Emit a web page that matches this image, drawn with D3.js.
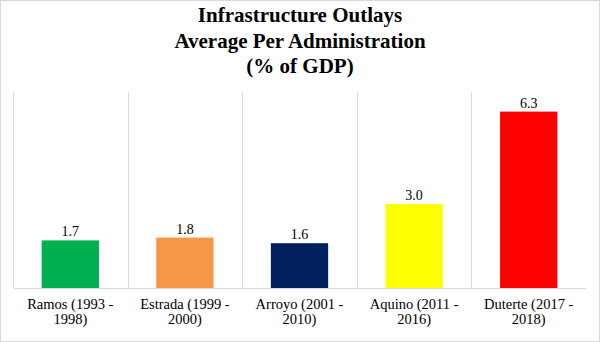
<!DOCTYPE html>
<html>
<head>
<meta charset="utf-8">
<script src="https://cdn.jsdelivr.net/npm/d3@7/dist/d3.min.js"></script>
<style>
  html, body { margin: 0; padding: 0; background: #fff; }
  svg { display: block; }
  text { font-family: "Liberation Serif", "DejaVu Serif", serif; }
</style>
</head>
<body>
<svg id="chart" width="600" height="342"></svg>
<script>
// Administrations and their average infrastructure outlays (% of GDP)
const categories = [
  ["Ramos (1993 -", "1998)"],
  ["Estrada (1999 -", "2000)"],
  ["Arroyo (2001 -", "2010)"],
  ["Aquino (2011 -", "2016)"],
  ["Duterte (2017 -", "2018)"]
];
const values = [1.7, 1.8, 1.6, 3.0, 6.3];
const colors = ["#00b050", "#f79646", "#002060", "#ffff00", "#ff0000"];
const titleLines = ["Infrastructure Outlays", "Average Per Administration", "(% of GDP)"];

const W = 600, H = 342;
const margin = { top: 92, right: 14, bottom: 54, left: 13 };
const svg = d3.select("#chart");

// chart frame
svg.append("rect")
  .attr("x", 0.5).attr("y", 0.5)
  .attr("width", W - 1).attr("height", H - 1)
  .attr("fill", "#fff").attr("stroke", "#d9d9d9");

const keys = categories.map((c, i) => i);
const x = d3.scaleBand()
  .domain(keys)
  .range([margin.left, W - margin.right])
  .paddingInner(0.5).paddingOuter(0.25);
const y = d3.scaleLinear()
  .domain([0, 7])
  .range([H - margin.bottom, margin.top]);

// category separators (vertical gridlines)
const sepX = keys.map(k => x(k) - x.bandwidth() * 0.5);
svg.append("g").selectAll("line")
  .data(sepX)
  .join("line")
  .attr("x1", d => Math.round(d) + 0.5).attr("x2", d => Math.round(d) + 0.5)
  .attr("y1", y(7)).attr("y2", y(0))
  .attr("stroke", "#d9d9d9").attr("stroke-width", 1);

// bars
svg.append("g").selectAll("rect")
  .data(values)
  .join("rect")
  .attr("x", (d, i) => x(i))
  .attr("width", x.bandwidth())
  .attr("y", d => y(d))
  .attr("height", d => y(0) - y(d))
  .attr("fill", (d, i) => colors[i]);

// value labels
svg.append("g").selectAll("text")
  .data(values)
  .join("text")
  .attr("x", (d, i) => x(i) + x.bandwidth() / 2)
  .attr("y", d => y(d) - 4)
  .attr("text-anchor", "middle")
  .attr("font-size", 14)
  .attr("fill", "#000")
  .text(d => d.toFixed(1));

// category axis
const xAxis = d3.axisBottom(x).tickSize(0).tickFormat(() => "");
const ax = svg.append("g")
  .attr("transform", `translate(0,${y(0)})`)
  .call(xAxis);
ax.select(".domain").attr("stroke", "#d9d9d9");

const catLabels = svg.append("g").selectAll("text")
  .data(categories)
  .join("text")
  .attr("x", (d, i) => x(i) + x.bandwidth() / 2)
  .attr("y", y(0) + 21)
  .attr("text-anchor", "middle")
  .attr("font-size", 14.5)
  .attr("fill", "#000");
catLabels.selectAll("tspan")
  .data(d => d)
  .join("tspan")
  .attr("x", function () { return d3.select(this.parentNode).attr("x"); })
  .attr("dy", (d, i) => i === 0 ? 0 : 15)
  .text(d => d);

// title
svg.append("text")
  .attr("x", W / 2)
  .attr("y", 22)
  .attr("text-anchor", "middle")
  .attr("font-size", 21)
  .attr("font-weight", "bold")
  .selectAll("tspan")
  .data(titleLines)
  .join("tspan")
  .attr("x", W / 2)
  .attr("dy", (d, i) => i === 0 ? 0 : 25.5)
  .text(d => d);
</script>
</body>
</html>
